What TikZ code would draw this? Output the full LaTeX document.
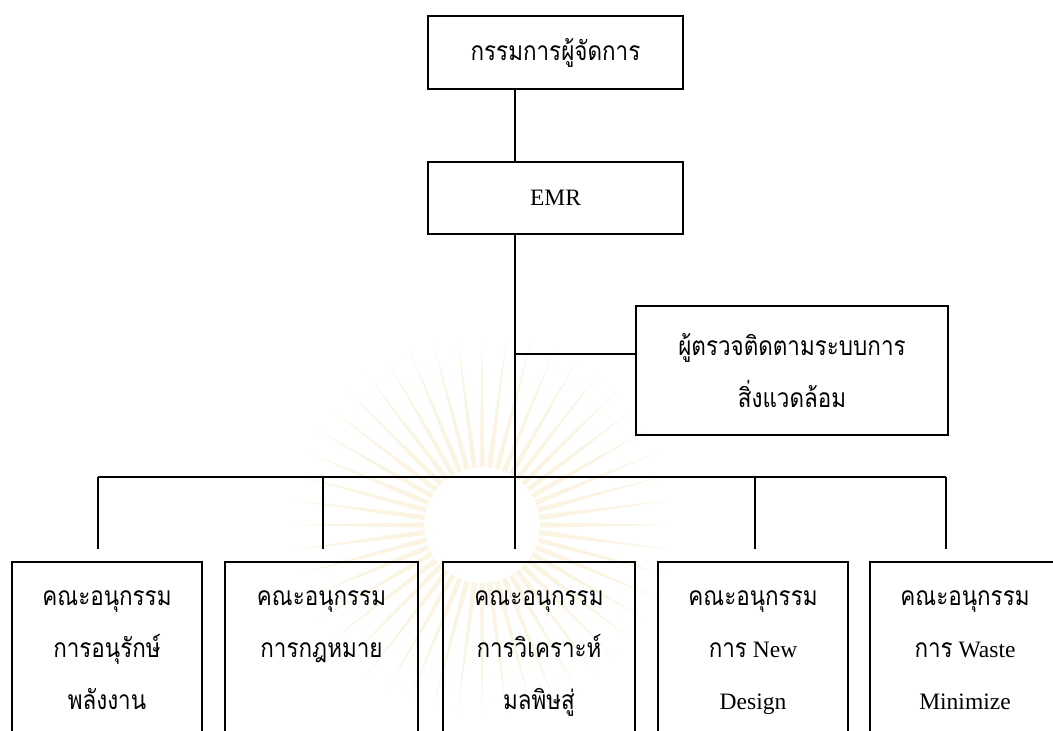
\documentclass[tikz,border=0pt]{standalone}
\usepackage{fontspec}
\usetikzlibrary{calc}
\setmainfont{Liberation Serif}
\newfontfamily\thai[Script=Thai,Scale=1.123,FakeStretch=0.85]{Loma}
\newcommand\chartsize{\fontsize{23.5}{52}\selectfont}
\definecolor{wmcol}{RGB}{251,244,226}
\begin{document}
\begin{tikzpicture}[x=1pt,y=-1pt,
  font=\chartsize,
  frame/.style={draw, line width=1.8pt, inner sep=0pt},
  subbox/.style={frame, anchor=north, inner ysep=7pt},
  wire/.style={line width=1.8pt}]
\useasboundingbox (0,0) rectangle (1053,731);
\clip (0,0) rectangle (1053,731);

% faint emblem behind the committee row
\begin{scope}[shift={(482,525)}]
  \foreach \a in {0,7.5,...,355}
    \fill[wmcol] (\a-2.6:58) -- (\a:190) -- (\a+2.6:58) -- cycle;
\end{scope}

% management levels
\node[frame, minimum width=255pt, minimum height=73pt] (md) at (555.5,52.5) {\thai กรรมการผู้จัดการ};
\node[frame, minimum width=255pt, minimum height=72pt] (emr) at (555.5,198) {EMR};
\node[frame, minimum width=312pt, minimum height=129pt, align=center] (aud) at (792,370.5)
  {\thai ผู้ตรวจติดตามระบบการ\\ \thai สิ่งแวดล้อม};

% committees
\node[subbox, minimum width=190pt] (b1) at (107,561)
  {\parbox[t][180pt][t]{180pt}{\centering\strut\thai คณะอนุกรรม\\ การอนุรักษ์\\ พลังงาน}};
\node[subbox, minimum width=193pt] (b2) at (321.5,561)
  {\parbox[t][180pt][t]{180pt}{\centering\strut\thai คณะอนุกรรม\\ การกฎหมาย}};
\node[subbox, minimum width=192pt] (b3) at (539,561)
  {\parbox[t][180pt][t]{180pt}{\centering\strut\thai คณะอนุกรรม\\ การวิเคราะห์\\ มลพิษสู่}};
\node[subbox, minimum width=190pt] (b4) at (753,561)
  {\parbox[t][180pt][t]{180pt}{\centering\strut{\thai คณะอนุกรรม}\\ {\thai การ} New\\ Design}};
\node[subbox, minimum width=190pt] (b5) at (965,561)
  {\parbox[t][180pt][t]{180pt}{\centering\strut{\thai คณะอนุกรรม}\\ {\thai การ} Waste\\ Minimize}};

% trunk, branch and bus
\coordinate (t) at (515,0);
\coordinate (j) at (515,354);
\coordinate (k1) at (98,477);
\coordinate (k2) at (323,477);
\coordinate (k3) at (515,477);
\coordinate (k4) at (755,477);
\coordinate (k5) at (946,477);
\foreach \i in {1,...,5} \coordinate (e\i) at ($(k\i)+(0,72)$);

\draw[wire] (md.south -| t) -- (emr.north -| t);
\draw[wire] (emr.south -| t) -- (e3);
\draw[wire] (j) -- (j -| aud.west);
\draw[wire] (k1) -- (k5);
\foreach \i in {1,2,4,5} \draw[wire] (k\i) -- (e\i);
\end{tikzpicture}
\end{document}
